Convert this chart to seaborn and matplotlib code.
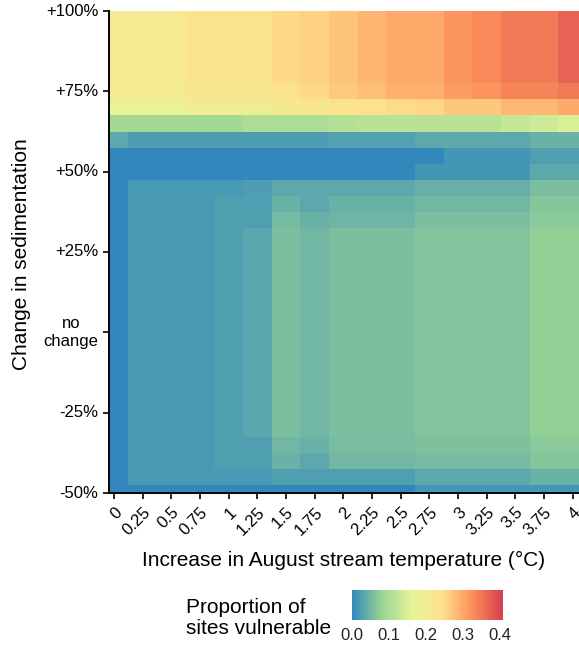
import matplotlib
matplotlib.use("Agg")
import matplotlib.pyplot as plt
import numpy as np
import pandas as pd
import seaborn as sns
from matplotlib.colors import LinearSegmentedColormap

# ---------------- data ----------------
temp_labels = ["0", "0.25", "0.5", "0.75", "1", "1.25", "1.5", "1.75", "2",
               "2.25", "2.5", "2.75", "3", "3.25", "3.5", "3.75", "4"]
sed_levels = [100, 95, 90, 85, 80, 75, 70, 65, 60, 55, 50, 45, 40, 35, 30, 25,
              20, 15, 10, 5, 0, -5, -10, -15, -20, -25, -30, -35, -40, -45, -50]
sed_ticks = [100, 75, 50, 25, 0, -25, -50]
sed_tick_labels = ["+100%", "+75%", "+50%", "+25%", "no\nchange", "-25%", "-50%"]
cbar_ticks = [0.0, 0.1, 0.2, 0.3, 0.4]
cbar_labels = ["0.0", "0.1", "0.2", "0.3", "0.4"]

row_top = [0.208, 0.208, 0.208, 0.235, 0.235, 0.235, 0.254, 0.262, 0.273, 0.288, 0.301, 0.301, 0.321, 0.330, 0.347, 0.347, 0.370]
row_p75 = [0.208, 0.208, 0.208, 0.218, 0.218, 0.218, 0.240, 0.252, 0.269, 0.279, 0.294, 0.294, 0.313, 0.321, 0.336, 0.336, 0.348]
row_p70 = [0.180, 0.180, 0.180, 0.195, 0.195, 0.195, 0.212, 0.222, 0.235, 0.242, 0.251, 0.256, 0.270, 0.270, 0.286, 0.286, 0.300]
row_p65 = [0.093, 0.093, 0.093, 0.093, 0.093, 0.101, 0.101, 0.101, 0.110, 0.116, 0.116, 0.116, 0.116, 0.116, 0.127, 0.137, 0.152]
row_p60 = [0.035, 0.023, 0.023, 0.023, 0.023, 0.023, 0.023, 0.023, 0.028, 0.028, 0.028, 0.035, 0.035, 0.035, 0.035, 0.045, 0.045]
row_p55 = [0.0, 0.0, 0.0, 0.0, 0.0, 0.0, 0.0, 0.0, 0.0, 0.0, 0.0, 0.0, 0.016, 0.016, 0.016, 0.025, 0.025]
row_p50 = [0.0, 0.0, 0.0, 0.0, 0.0, 0.0, 0.0, 0.0, 0.0, 0.0, 0.0, 0.016, 0.016, 0.016, 0.016, 0.034, 0.034]
row_p45 = [0.0, 0.019, 0.019, 0.019, 0.019, 0.023, 0.034, 0.034, 0.034, 0.034, 0.034, 0.043, 0.043, 0.043, 0.043, 0.058, 0.058]
row_p40 = [0.0, 0.019, 0.019, 0.019, 0.025, 0.025, 0.045, 0.035, 0.044, 0.044, 0.044, 0.051, 0.051, 0.051, 0.051, 0.066, 0.066]
row_p35 = [0.0, 0.019, 0.019, 0.019, 0.025, 0.025, 0.053, 0.044, 0.049, 0.049, 0.049, 0.058, 0.058, 0.058, 0.058, 0.072, 0.072]
row_mid = [0.0, 0.019, 0.019, 0.019, 0.025, 0.033, 0.059, 0.051, 0.058, 0.058, 0.058, 0.065, 0.065, 0.065, 0.065, 0.077, 0.077]
row_m35 = [0.0, 0.019, 0.019, 0.019, 0.025, 0.025, 0.051, 0.044, 0.057, 0.057, 0.057, 0.062, 0.062, 0.062, 0.062, 0.070, 0.070]
row_m40 = [0.0, 0.019, 0.019, 0.019, 0.025, 0.025, 0.045, 0.035, 0.051, 0.051, 0.051, 0.056, 0.056, 0.056, 0.056, 0.066, 0.066]
row_m45 = [0.0, 0.019, 0.019, 0.019, 0.019, 0.019, 0.025, 0.025, 0.025, 0.025, 0.025, 0.035, 0.035, 0.035, 0.035, 0.045, 0.045]
row_m50 = [0.0, 0.0, 0.0, 0.0, 0.0, 0.0, 0.0, 0.0, 0.0, 0.0, 0.0, 0.016, 0.016, 0.016, 0.016, 0.016, 0.016]

proportion = [
    row_top, row_top, row_top, row_top, row_top,   # +100 .. +80
    row_p75, row_p70, row_p65, row_p60, row_p55, row_p50,
    row_p45, row_p40, row_p35,
    row_mid, row_mid, row_mid, row_mid, row_mid, row_mid, row_mid,  # +30 .. 0
    row_mid, row_mid, row_mid, row_mid, row_mid, row_mid,           # -5 .. -30
    row_m35, row_m40, row_m45, row_m50,
]

# ---------------- style ----------------
sns.set_theme(style="white")
plt.rcParams["font.family"] = ["Liberation Sans", "DejaVu Sans"]

spectral6 = ["#3288BD", "#99D594", "#E6F598", "#FEE08B", "#FC8D59", "#D53E4F"]
cmap = LinearSegmentedColormap.from_list("spectral6_r", spectral6, N=256)

df = pd.DataFrame(proportion, index=sed_levels, columns=temp_labels)

W, H = 579, 646
fig = plt.figure(figsize=(W / 100, H / 100), dpi=100)
ax = fig.add_axes([108.5 / W, 1 - 493 / H, 1 - 108.5 / W, (493 - 11) / H])

sns.heatmap(df, ax=ax, cmap=cmap, vmin=0.0, vmax=0.41, cbar=False,
            xticklabels=True, yticklabels=True, linewidths=0)

ax.set_xlim(0.31, 16.72)
ax.set_ylim(30.5, 0.5)

ypos = [sed_levels.index(v) + 0.5 for v in sed_ticks]
ax.set_yticks(ypos)
ax.set_yticklabels(sed_tick_labels, fontsize=12, color="black", rotation=0)
for lab in ax.get_yticklabels():
    lab.set_multialignment("center")

ax.set_xticks([i + 0.5 for i in range(len(temp_labels))])
ax.set_xticklabels(temp_labels, rotation=45, ha="right", va="top",
                   rotation_mode="anchor", fontsize=12, color="black")

ax.tick_params(axis="both", which="major", bottom=True, left=True,
               direction="out", length=4.3, width=1.2, color="black", pad=3)
ax.tick_params(axis="x", pad=4)

for s in ["left", "bottom"]:
    ax.spines[s].set_visible(True)
    ax.spines[s].set_color("black")
    ax.spines[s].set_linewidth(1.4)
for s in ["top", "right"]:
    ax.spines[s].set_visible(False)

ax.set_xlabel("")
ax.set_ylabel("")
fig.text(344 / W, 1 - 560 / H, "Increase in August stream temperature (°C)",
         fontsize=15, ha="center", va="center", color="black")
fig.text(22 / W, 1 - 254 / H, "Change in sedimentation", fontsize=15,
         ha="center", va="center", rotation=90, color="black")

# ---------------- colour bar ----------------
cax = fig.add_axes([351.7 / W, 1 - 620 / H, 151.6 / W, 30 / H])
cb = fig.colorbar(ax.collections[0], cax=cax, orientation="horizontal",
                  ticks=cbar_ticks)
cb.outline.set_visible(False)
cb.set_ticklabels(cbar_labels)
cax.tick_params(direction="in", length=5, width=0.8, color="white",
                top=True, bottom=True, labelsize=12, labelcolor="#222222", pad=6)

fig.text(186 / W, 1 - 618 / H, "Proportion of\nsites vulnerable", fontsize=15,
         ha="left", va="center", linespacing=1.15, color="black")

fig.savefig("out.png", dpi=100)
